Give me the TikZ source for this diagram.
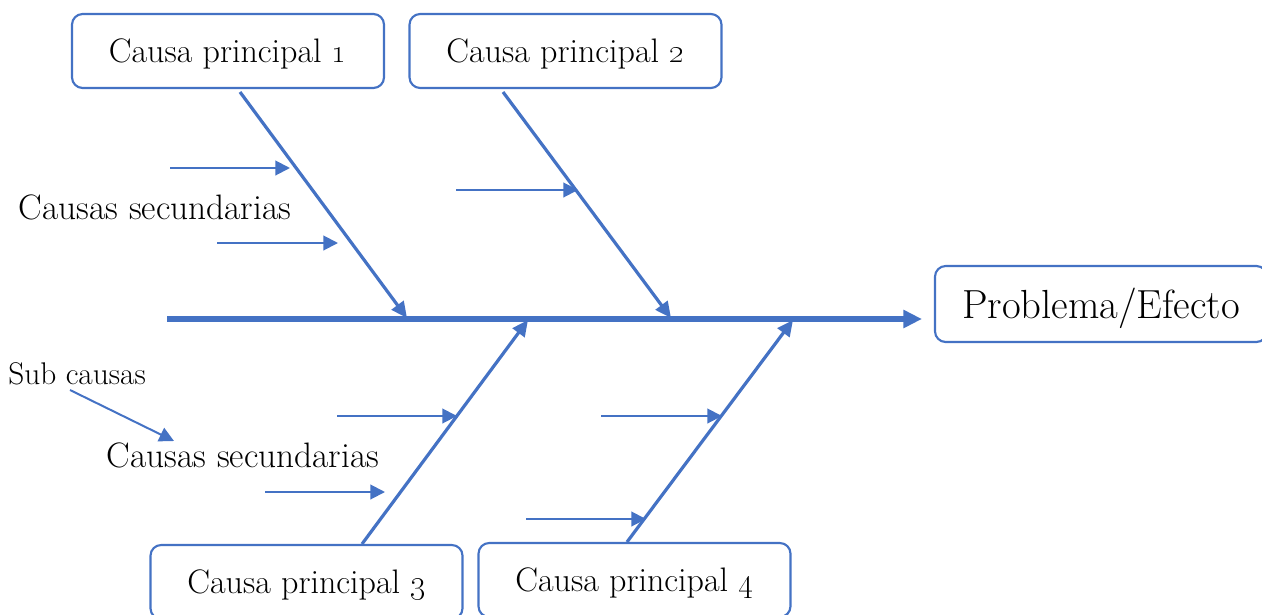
\documentclass[tikz,border=0pt]{standalone}
\usetikzlibrary{arrows.meta,calc}
\definecolor{bone}{HTML}{4472C4}
\begin{document}
\begin{tikzpicture}[x=0.75pt,y=-0.75pt,
  causebox/.style={draw=bone,line width=1.6pt,rounded corners=8pt,fill=white,
    minimum width={312*0.75pt},minimum height={74*0.75pt},inner sep=0pt,
    text depth=1pt,font=\fontsize{25.5}{28}\selectfont},
  effectbox/.style={causebox,minimum width={332*0.75pt},minimum height={76*0.75pt},
    font=\fontsize{30.5}{34}\selectfont},
  spine/.style={draw=bone,line width=3.8pt,-{Triangle[length=14pt,width=13pt]}},
  mainbone/.style={draw=bone,line width=2.4pt,-{Triangle[length=12pt,width=11pt]}},
  subarrow/.style={draw=bone,line width=1.5pt,-{Triangle[length=11pt,width=11pt]}},
  label/.style={inner sep=0pt,font=\fontsize{26.5}{30}\selectfont},
  small/.style={inner sep=0pt,font=\fontsize{23.5}{26}\selectfont}]
\useasboundingbox (0,0) rectangle (1262,614);

% main cause boxes and the effect
\node[causebox] (c1) at (228,51) {Causa principal \oldstylenums{1}};
\node[causebox] (c2) at (565.5,51) {Causa principal \oldstylenums{2}};
\node[causebox] (c3) at (306.5,582) {Causa principal \oldstylenums{3}};
\node[causebox] (c4) at (634.5,580) {Causa principal \oldstylenums{4}};
\node[effectbox] (ef) at (1101,304) {Problema/Efecto};

% spine and joints where the bones meet it
\coordinate (s0) at (167,319);
\coordinate (s1) at (922,319);
\coordinate (j1) at (407,318);
\coordinate (j2) at (671,318);
\coordinate (j3) at (528,320);
\coordinate (j4) at (793,320);
\draw[spine] (s0) -- (s1);

% main bones
\draw[mainbone] (240,92) -- (j1);
\draw[mainbone] (503,92) -- (j2);
\draw[mainbone] (362,544) -- (j3);
\draw[mainbone] (627,542) -- (j4);

% secondary causes
\coordinate (a1) at (170,168); \coordinate (b1) at (290,168);
\coordinate (a2) at (217,243); \coordinate (b2) at (338,243);
\coordinate (a3) at (456,190); \coordinate (b3) at (578,190);
\coordinate (a4) at (337,416); \coordinate (b4) at (457,416);
\coordinate (a5) at (265,492); \coordinate (b5) at (385,492);
\coordinate (a6) at (601,416); \coordinate (b6) at (722,416);
\coordinate (a7) at (526,519); \coordinate (b7) at (646,519);
\foreach \i in {1,...,7} \draw[subarrow] (a\i) -- (b\i);

% labels
\node[label] (l1) at (155,207) {Causas secundarias};
\node[label] (l2) at (243,455) {Causas secundarias};
\node[small,anchor=west] (sc) at (8,374) {Sub causas};
\coordinate (sct) at (174,441);
\draw[subarrow] (70,390) -- (sct);
\end{tikzpicture}
\end{document}
